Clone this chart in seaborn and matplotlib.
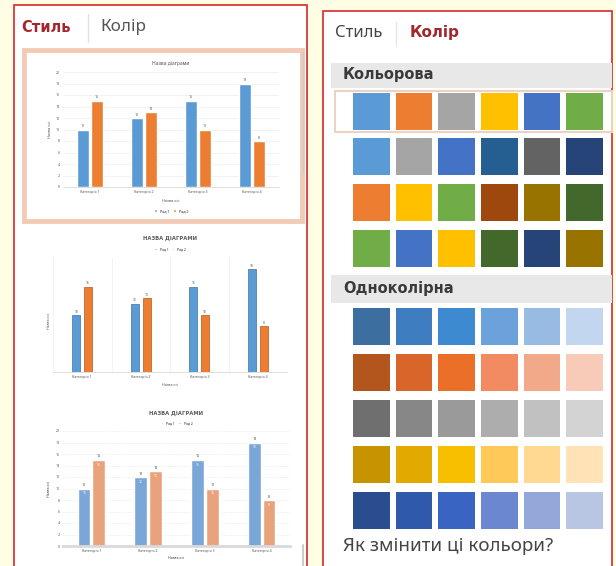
# Import necessary libraries
import numpy as np
import pandas as pd
import matplotlib.pyplot as plt
from matplotlib.colors import ListedColormap
from matplotlib.patches import Rectangle
import seaborn as sns

# Data for the chart thumbnails
categories = ['Категорія 1', 'Категорія 2', 'Категорія 3', 'Категорія 4']
series_names = ['Ряд 1', 'Ряд 2']
series1 = [10, 12, 15, 18]
series2 = [15, 13, 10, 8]
y_ticks = [0, 2, 4, 6, 8, 10, 12, 14, 16, 18, 20]

# Colour swatches of the "Колір" panel
colorful_rows = [
    ['#5B9BD5', '#ED7D31', '#A5A5A5', '#FFC000', '#4472C4', '#70AD47'],
    ['#5B9BD5', '#A5A5A5', '#4472C4', '#255E91', '#636363', '#264478'],
    ['#ED7D31', '#FFC000', '#70AD47', '#9E480E', '#997300', '#43682B'],
    ['#70AD47', '#4472C4', '#FFC000', '#43682B', '#264478', '#997300'],
]
mono_rows = [
    ['#3C6E9F', '#3E7DBF', '#3D8AD0', '#6BA2DB', '#98BBE3', '#C2D7EF'],
    ['#B3561E', '#D9652B', '#EB6F28', '#F28A62', '#F1A98A', '#F7CBB8'],
    ['#6F6F6F', '#878787', '#9A9A9A', '#ADADAD', '#C1C1C1', '#D3D3D3'],
    ['#C79400', '#E2AA00', '#F8BE00', '#FFC95A', '#FFD891', '#FFE3B6'],
    ['#2A4D8F', '#2F59AA', '#3A64C2', '#6A87CF', '#93A8D8', '#B9C6E3'],
]

sns.set_theme(style='white')
plt.rcParams['font.family'] = ['Noto Sans', 'DejaVu Sans']
BOLD = ['DejaVu Sans']

W, H = 616, 566
fig = plt.figure(figsize=(W / 100, H / 100), dpi=100)
fig.patch.set_facecolor('#FFFDE4')


def box(x0, y0, x1, y1):
    # pixel box (top-left origin) -> figure fraction
    return [x0 / W, 1 - y1 / H, (x1 - x0) / W, (y1 - y0) / H]


# Background layer in pixel coordinates
bg = fig.add_axes([0, 0, 1, 1])
bg.set_xlim(0, W)
bg.set_ylim(H, 0)
bg.axis('off')

red = '#D8262B'
dark_red = '#A3262C'
bg.add_patch(Rectangle((14, 5), 293, 600, facecolor='white', edgecolor=red, lw=1.2))
bg.add_patch(Rectangle((323, 11), 289, 600, facecolor='white', edgecolor=red, lw=1.2))

# Left panel header
bg.text(21, 27, 'Стиль', fontsize=10.5, fontweight='bold', family=BOLD, color=dark_red, va='center')
bg.plot([88, 88], [14, 42], color='#E2E2E2', lw=1)
bg.text(100, 27, 'Колір', fontsize=12.3, color='#555555', va='center')
bg.add_patch(Rectangle((24, 50), 278, 171, fill=False, edgecolor='#F2CBB6', lw=3.5))
bg.plot([303, 303], [52, 172], color='#CCCCCC', lw=1)
bg.plot([303, 303], [545, 566], color='#CCCCCC', lw=1.5)

# Right panel header
bg.text(335, 33, 'Стиль', fontsize=12, color='#444444', va='center')
bg.plot([396, 396], [22, 46], color='#E6E6E6', lw=1)
bg.text(410, 33, 'Колір', fontsize=11, fontweight='bold', family=BOLD, color=dark_red, va='center')
bg.add_patch(Rectangle((331, 63), 281, 25, facecolor='#E8E8E8', edgecolor='none'))
bg.text(343, 75, 'Кольорова', fontsize=10.5, fontweight='bold', family=BOLD, color='#3A3A3A', va='center')
bg.add_patch(Rectangle((331, 275), 281, 28, facecolor='#E8E8E8', edgecolor='none'))
bg.text(343, 289, 'Одноколірна', fontsize=10.5, fontweight='bold', family=BOLD, color='#3A3A3A', va='center')
bg.text(343, 546, 'Як змінити ці кольори?', fontsize=13.5, color='#444444', va='center')

# Long form table for seaborn
df = pd.DataFrame({
    'Категорія': categories * 2,
    'Значення': series1 + series2,
    'Ряд': [series_names[0]] * 4 + [series_names[1]] * 4,
})


def style_axis(ax, tick_labels=True):
    ax.set_facecolor('none')
    ax.set_ylim(0, 20)
    ax.set_xlim(-0.5, 3.5)
    for s in ['top', 'right', 'left']:
        ax.spines[s].set_visible(False)
    ax.spines['bottom'].set_color('#D9D9D9')
    ax.spines['bottom'].set_linewidth(0.6)
    ax.tick_params(axis='both', length=0, labelsize=2.6, colors='#595959', pad=2)
    if tick_labels:
        ax.set_yticks(y_ticks)
    else:
        ax.set_yticks([])


# Chart 1 - selected style
ax1 = fig.add_axes(box(63, 72, 279, 187))
sns.barplot(data=df, x='Категорія', y='Значення', hue='Ряд', saturation=1,
            palette=['#5B9BD5', '#ED7D31'], width=0.52, gap=0.15, ax=ax1)
style_axis(ax1)
ax1.yaxis.grid(True, color='#E8E8E8', lw=0.4)
ax1.set_axisbelow(True)
for c in ax1.containers:
    ax1.bar_label(c, fontsize=2.6, padding=1, color='#595959')
ax1.set_title('Назва діаграми', fontsize=3.6, color='#595959', y=1 + 9 / 115, va='center', pad=0)
ax1.set_xlabel('Назва осі', fontsize=2.8, color='#595959', va='center')
ax1.xaxis.set_label_coords(0.5, -14 / 115)
ax1.set_ylabel('Назва осі', fontsize=2.8, color='#595959', va='center')
ax1.yaxis.set_label_coords(-13 / 216, 0.5)
sns.move_legend(ax1, 'center', bbox_to_anchor=(0.5, -24 / 115), ncol=2, fontsize=2.6,
                frameon=False, title=None, handlelength=0.8, handleheight=0.8, columnspacing=1)

# Chart 2 - narrow bars, legend on top
ax2 = fig.add_axes(box(53, 258, 287, 372))
sns.barplot(data=df, x='Категорія', y='Значення', hue='Ряд', saturation=1,
            palette=['#5B9BD5', '#ED7D31'], width=0.4, gap=0.3, ax=ax2)
style_axis(ax2, tick_labels=False)
for c, ec in zip(ax2.containers, ['#41719C', '#AE5A21']):
    for p in c:
        p.set_edgecolor(ec)
        p.set_linewidth(0.5)
    ax2.bar_label(c, fontsize=2.4, padding=1, color='#595959')
ax2.set_xticks([-0.5, 0.5, 1.5, 2.5, 3.5], minor=True)
ax2.grid(which='minor', axis='x', color='#EDEDED', lw=0.5)
ax2.set_axisbelow(True)
ax2.set_title('НАЗВА ДІАГРАМИ', fontsize=3.8, fontweight='bold', family=BOLD, color='#595959',
              y=1 + 20 / 114, va='center', pad=0)
ax2.set_xlabel('Назва осі', fontsize=2.6, color='#595959', va='center')
ax2.xaxis.set_label_coords(0.5, -13 / 114)
ax2.set_ylabel('Назва осі', fontsize=2.6, color='#595959', va='center')
ax2.yaxis.set_label_coords(-4 / 234, 0.45)
sns.move_legend(ax2, 'center', bbox_to_anchor=(0.5, 1 + 9 / 114), ncol=2, fontsize=2.4,
                frameon=False, title=None, handlelength=0.8, handleheight=0.8, columnspacing=1)

# Chart 3 - soft colours
ax3 = fig.add_axes(box(63, 431, 290, 546))
sns.barplot(data=df, x='Категорія', y='Значення', hue='Ряд', saturation=1,
            palette=['#7AA6D8', '#E9A37C'], width=0.52, gap=0.15, ax=ax3)
style_axis(ax3)
ax3.yaxis.grid(True, color='#D6D6D6', lw=0.4, ls=':')
ax3.set_axisbelow(True)
ax3.spines['bottom'].set_linewidth(2)
for c in ax3.containers:
    ax3.bar_label(c, fontsize=2.6, padding=1, color='#404040')
    ax3.bar_label(c, fontsize=2.2, padding=-5, color='white')
ax3.set_title('НАЗВА ДІАГРАМИ', fontsize=3.8, fontweight='bold', family=BOLD, color='#595959',
              y=1 + 18 / 115, va='center', pad=0)
ax3.set_xlabel('Назва осі', fontsize=2.6, color='#404040', va='center')
ax3.xaxis.set_label_coords(0.5, -12 / 115)
ax3.set_ylabel('Назва осі', fontsize=2.6, color='#404040', va='center')
ax3.yaxis.set_label_coords(-14 / 227, 0.5)
sns.move_legend(ax3, 'center', bbox_to_anchor=(0.5, 1 + 8 / 115), ncol=2, fontsize=2.4,
                frameon=False, title=None, handlelength=0.8, handleheight=0.8, columnspacing=1)


# Swatch rows drawn as one-row heatmaps
def swatch_row(colors, top):
    ax = fig.add_axes(box(350, top - 3, 606, top + 40))
    sns.heatmap(np.arange(len(colors)).reshape(1, -1), cmap=ListedColormap(colors),
                vmin=-0.5, vmax=len(colors) - 0.5, cbar=False, linewidths=4.3,
                linecolor='white', xticklabels=False, yticklabels=False, ax=ax)
    return ax


for row, top in zip(colorful_rows, [93, 138, 184, 230]):
    swatch_row(row, top)
for row, top in zip(mono_rows, [308, 354, 400, 446, 492]):
    swatch_row(row, top)

# Highlight of the selected palette row
fig.patches.append(Rectangle(box(335, 91, 612, 132)[:2], (612 - 335) / W, 41 / H,
                             transform=fig.transFigure, fill=False,
                             edgecolor='#EDD2C4', lw=1.5, zorder=5))

plt.savefig('out.png', dpi=100, facecolor=fig.get_facecolor())
